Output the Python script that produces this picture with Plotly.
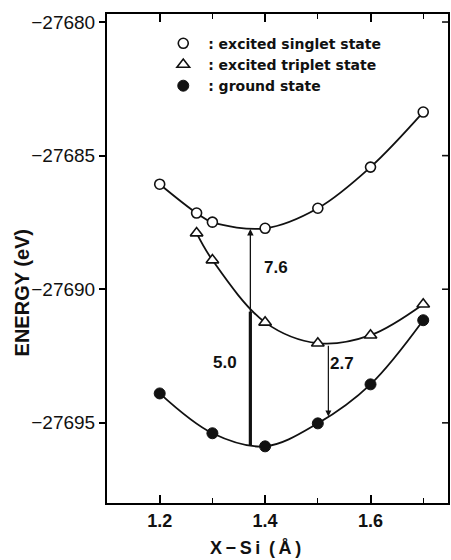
import plotly.graph_objects as go

# X–Si distance (Å) and total energies (eV) for each electronic state
singlet_x = [1.20, 1.27, 1.30, 1.40, 1.50, 1.60, 1.70]
singlet_e = [-27686.07, -27687.15, -27687.49, -27687.72, -27686.97, -27685.43, -27683.37]

triplet_x = [1.27, 1.30, 1.40, 1.50, 1.60, 1.70]
triplet_e = [-27687.90, -27688.91, -27691.24, -27692.02, -27691.72, -27690.56]

ground_x = [1.20, 1.30, 1.40, 1.50, 1.60, 1.70]
ground_e = [-27693.90, -27695.39, -27695.88, -27695.02, -27693.56, -27691.16]

# vertical transitions: position, anchor energy and gap (eV)
vert_x = 1.372
vert_singlet_level = -27687.75
vert_ground_level = -27695.84
gap_singlet = 7.6
gap_triplet = 5.0

adiab_x = 1.52
adiab_triplet_level = -27692.06
gap_adiabatic = 2.7

x_ticks = [1.2, 1.4, 1.6]
x_minor = [1.3, 1.5, 1.7]
y_ticks = [-27695, -27690, -27685, -27680]
y_range = [-27698.0, -27679.7]
x_range = [1.1, 1.747]

FONT = "Liberation Sans, Arial, sans-serif"
WIDE = "DejaVu Sans, Verdana, sans-serif"
BLACK = "#111111"

W, H = 451, 560
ML, MR, MT, MB = 107, 1, 14, 57
plot_w = W - ML - MR
plot_h = H - MT - MB
px_x = (x_range[1] - x_range[0]) / plot_w   # data units per pixel
px_y = (y_range[1] - y_range[0]) / plot_h

open_circle = dict(symbol="circle", size=10, color="white", line=dict(color=BLACK, width=1.6))
open_tri = dict(symbol="triangle-up", size=11, color="white", line=dict(color=BLACK, width=1.6))
full_circle = dict(symbol="circle", size=11, color=BLACK, line=dict(color=BLACK, width=1))

fig = go.Figure()

for xs, ys, mk in [(singlet_x, singlet_e, open_circle),
                   (triplet_x, triplet_e, open_tri),
                   (ground_x, ground_e, full_circle)]:
    fig.add_trace(go.Scatter(
        x=xs, y=ys, mode="lines+markers",
        line=dict(color=BLACK, width=1.8, shape="spline", smoothing=1.0),
        marker=mk, showlegend=False, cliponaxis=False,
    ))

# legend entries (marker only)
for name, mk in [(" : excited singlet state", open_circle),
                 (" : excited triplet state", open_tri),
                 (" : ground state", full_circle)]:
    fig.add_trace(go.Scatter(x=[None], y=[None], mode="markers",
                             marker=mk, name=name, showlegend=True))

x0, x1 = x_range
y0, y1 = y_range

# inward ticks on the right-hand edge
for yv in y_ticks:
    fig.add_shape(type="line", xref="x", yref="y", layer="below",
                  x0=x1, x1=x1 - 6 * px_x, y0=yv, y1=yv,
                  line=dict(color=BLACK, width=1.6))

# thick line: ground -> triplet (5.0 eV)
fig.add_shape(type="line", xref="x", yref="y",
              x0=vert_x, x1=vert_x,
              y0=vert_ground_level, y1=vert_ground_level + gap_triplet,
              line=dict(color=BLACK, width=3.2), layer="below")

# thin arrow: up to singlet (7.6 eV)
fig.add_annotation(x=vert_x, y=vert_singlet_level,
                   ax=vert_x, ay=vert_singlet_level - gap_singlet,
                   xref="x", yref="y", axref="x", ayref="y",
                   text="", showarrow=True, arrowhead=2, arrowsize=1.0,
                   arrowwidth=1.3, arrowcolor=BLACK, standoff=0)

# thin arrow: triplet down to ground (2.7 eV)
fig.add_annotation(x=adiab_x, y=adiab_triplet_level - gap_adiabatic,
                   ax=adiab_x, ay=adiab_triplet_level,
                   xref="x", yref="y", axref="x", ayref="y",
                   text="", showarrow=True, arrowhead=2, arrowsize=1.0,
                   arrowwidth=1.2, arrowcolor=BLACK, standoff=0)

label_font = dict(family=FONT, size=17, color=BLACK, weight="bold")
fig.add_annotation(x=1.421, y=-27689.2, text=f"{gap_singlet:.1f}", showarrow=False, font=label_font)
fig.add_annotation(x=1.324, y=-27692.73, text=f"{gap_triplet:.1f}", showarrow=False, font=label_font)
fig.add_annotation(x=1.546, y=-27692.77, text=f"{gap_adiabatic:.1f}", showarrow=False, font=label_font)

# axis titles
ts = "\u2009"
fig.add_annotation(xref="paper", yref="paper", x=(256 - ML) / plot_w, y=-0.092,
                   text=f"X{ts}−{ts}S{ts}i{ts} ({ts}Å{ts})", showarrow=False, yanchor="middle",
                   font=dict(family=FONT, size=18, color=BLACK, weight="bold"))
fig.add_annotation(xref="paper", yref="paper", x=-0.248, y=(503 - 293) / 489,
                   text="ENERGY (eV)", showarrow=False, textangle=-90,
                   xanchor="center", yanchor="middle",
                   font=dict(family=FONT, size=20, color=BLACK, weight="bold"))

fig.update_layout(
    width=W, height=H,
    margin=dict(l=ML, r=MR, t=MT, b=MB),
    plot_bgcolor="rgba(0,0,0,0)", paper_bgcolor="white",
    font=dict(family=FONT, color=BLACK),
    legend=dict(x=0.165, y=0.972, xanchor="left", yanchor="top",
                bgcolor="rgba(0,0,0,0)", borderwidth=0,
                font=dict(family=WIDE, size=14, color=BLACK, weight="bold"),
                itemwidth=30, tracegroupgap=0),
    xaxis=dict(range=x_range, tickvals=x_ticks, ticktext=[f"{v:.1f}" for v in x_ticks],
               ticks="inside", ticklen=8, tickwidth=1.6, tickcolor="black",
               minor=dict(tickvals=x_minor, ticks="inside", ticklen=5,
                          tickwidth=1.4, tickcolor="black"),
               showline=True, linewidth=2, linecolor="black", mirror="ticks",
               layer="above traces", showgrid=False, zeroline=False,
               tickfont=dict(family=FONT, size=18, color=BLACK, weight="bold")),
    yaxis=dict(range=y_range, tickvals=y_ticks,
               ticks="outside", ticklen=6, tickwidth=1.6, tickcolor="black",
               showline=True, linewidth=2, linecolor="black", mirror=True,
               layer="above traces", showgrid=False, zeroline=False, tickformat="d",
               tickfont=dict(family=FONT, size=19, color=BLACK)),
)

fig.write_html("out.html")
